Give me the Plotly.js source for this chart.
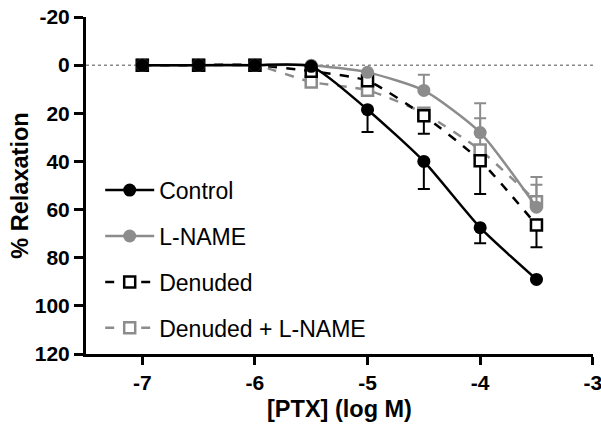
<!DOCTYPE html>
<html>
<head>
<meta charset="utf-8">
<script src="https://cdn.plot.ly/plotly-3.0.1.min.js"></script>
<style>html,body{margin:0;padding:0;background:#fff;}#chart{width:601px;height:432px;}</style>
</head>
<body>
<div id="chart"></div>
<script>
const logConc = [-7, -6.5, -6, -5.5, -5, -4.5, -4, -3.5];
const control = [0, 0, 0, 0.5, 18.5, 40, 67.5, 89];
const controlErr = [0, 0, 0, 0, 9.3, 11.5, 6.5, 0];
const lname = [0, 0, 0, 0, 3, 10.5, 28, 59];
const lnameErr = [0, 0, 0, 0, 0, 6.5, 12.2, 12.5];
const denuded = [0, 0, 0, 2.5, 6.5, 21, 39.7, 66.4];
const denudedErr = [0, 0, 0, 0, 1, 7.5, 13.8, 9.3];
const denLname = [0, 0, 0, 7, 10.4, 20, 35.3, 56.7];
const denLnameErr = [0, 0, 0, 0, 2, 0, 13.2, 7];
const names = ['Control', 'L-NAME', 'Denuded', 'Denuded + L-NAME'];
const yTicks = [-20, 0, 20, 40, 60, 80, 100, 120];
const xTicks = [-7, -6, -5, -4, -3];

const black = '#000000';
const gray = '#8c8c8c';
const zeros = logConc.map(() => 0);

function tr(name, y, err, up, color, dash, symbol, fill, rank) {
  return {
    x: logConc, y: y, name: name, type: 'scatter', mode: 'lines+markers',
    legendrank: rank, legendgroup: 'g' + rank,
    line: {color: color, width: 2.5, dash: dash, shape: 'spline', smoothing: 0.6},
    marker: {symbol: symbol, size: symbol === 'circle' ? 13 : 11, color: fill,
             line: {color: color, width: symbol === 'circle' ? 0 : 2.5}},
    error_y: {type: 'data', symmetric: false,
              array: up ? zeros : err, arrayminus: up ? err : zeros,
              color: color, thickness: 2, width: 6}
  };
}

const data = [
  tr(names[3], denLname, denLnameErr, true, gray, 'dash', 'square', '#ffffff', 4),
  tr(names[2], denuded, denudedErr, false, black, 'dash', 'square', '#ffffff', 3),
  tr(names[1], lname, lnameErr, true, gray, 'solid', 'circle', gray, 2),
  tr(names[0], control, controlErr, false, black, 'solid', 'circle', black, 1)
];

const layout = {
  width: 601, height: 432,
  margin: {l: 86, r: 8, t: 17, b: 78},
  paper_bgcolor: '#fff', plot_bgcolor: '#fff',
  font: {family: 'Liberation Sans, Arial, sans-serif', color: '#000'},
  showlegend: true,
  legend: {x: 0.028, y: 0.55, xanchor: 'left', yanchor: 'top', traceorder: 'grouped',
           itemwidth: 49, tracegroupgap: 13, font: {size: 23, color: '#000'}, bgcolor: 'rgba(0,0,0,0)'},
  xaxis: {range: [-7.5, -2.998], tickvals: xTicks, ticktext: xTicks.map(String),
          ticklabeloverflow: 'allow',
          showline: true, linecolor: '#000', linewidth: 3, showgrid: false, zeroline: false,
          ticks: 'outside', ticklen: 8, tickwidth: 3, tickcolor: '#000',
          tickfont: {size: 21, family: 'Liberation Sans, Arial, sans-serif', weight: 'bold'},
          title: {text: '<b>[PTX] (log M)</b>', font: {size: 23.5}, standoff: 8}},
  yaxis: {range: [120, -20], tickvals: yTicks, ticktext: yTicks.map(String),
          showline: true, linecolor: '#000', linewidth: 3, showgrid: false, zeroline: false,
          ticks: 'outside', ticklen: 9, tickwidth: 3, tickcolor: '#000',
          tickfont: {size: 21, family: 'Liberation Sans, Arial, sans-serif', weight: 'bold'},
          title: {text: '<b>% Relaxation</b>', font: {size: 23.5}, standoff: 0}},
  shapes: [{type: 'line', xref: 'paper', x0: 0, x1: 1, yref: 'y', y0: 0, y1: 0,
            layer: 'below', line: {color: '#888', width: 1.5, dash: 'dot'}}]
};

Plotly.newPlot('chart', data, layout, {staticPlot: true, displayModeBar: false});
</script>
</body>
</html>
